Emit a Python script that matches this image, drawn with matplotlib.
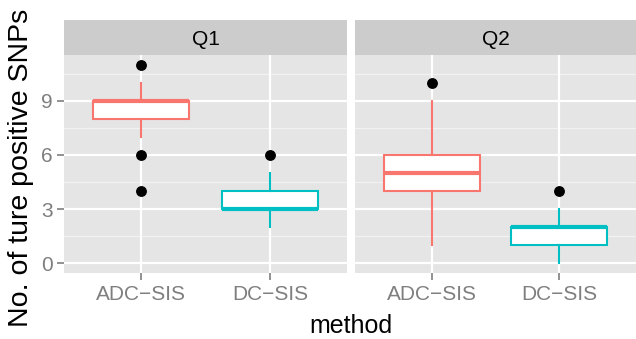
#!/usr/bin/env python3
"""Faceted boxplot of true positive SNP counts, ggplot2 look."""

import matplotlib

matplotlib.use("Agg")

import matplotlib.pyplot as plt

FACETS = ["Q1", "Q2"]
METHODS = ["ADC\u2212SIS", "DC\u2212SIS"]
METHOD_COLORS = ["#F8766D", "#00BFC4"]

# box summaries per facet, per method
Q1_LOWER = [8, 3]
Q1_MEDIAN = [9, 3]
Q1_UPPER = [9, 4]
Q1_WHISKER_LO = [7, 2]
Q1_WHISKER_HI = [10, 5]
Q1_OUTLIERS = [[11, 6, 4], [6]]

Q2_LOWER = [4, 1]
Q2_MEDIAN = [5, 2]
Q2_UPPER = [6, 2]
Q2_WHISKER_LO = [1, 0]
Q2_WHISKER_HI = [9, 3]
Q2_OUTLIERS = [[10], [4]]

Y_TICKS = [0, 3, 6, 9]
Y_MINOR = [1.5, 4.5, 7.5, 10.5]

FONT = ["Liberation Sans", "DejaVu Sans"]
BG = "#E5E5E5"
STRIP = "#CCCCCC"
GREY50 = "#7F7F7F"


def facet_stats(lower, median, upper, lo, hi, outliers):
    stats = []
    for i in range(len(METHODS)):
        stats.append(
            {
                "q1": lower[i],
                "med": median[i],
                "q3": upper[i],
                "whislo": lo[i],
                "whishi": hi[i],
                "fliers": outliers[i],
            }
        )
    return stats


def draw_panel(ax, stats, show_y):
    ax.set_facecolor(BG)
    for y in Y_MINOR:
        ax.axhline(y, color="#F2F2F2", linewidth=0.9, zorder=0)
    for y in Y_TICKS:
        ax.axhline(y, color="white", linewidth=1.6, zorder=0)
    for x in range(1, len(METHODS) + 1):
        ax.axvline(x, color="white", linewidth=1.6, zorder=0)

    for i, st in enumerate(stats):
        color = METHOD_COLORS[i]
        ax.bxp(
            [st],
            positions=[i + 1],
            widths=0.75,
            patch_artist=True,
            showcaps=False,
            boxprops={"facecolor": "white", "edgecolor": color, "linewidth": 1.5},
            whiskerprops={"color": color, "linewidth": 1.5},
            medianprops={"color": color, "linewidth": 3.0, "solid_capstyle": "butt"},
            flierprops={
                "marker": "o",
                "markerfacecolor": "black",
                "markeredgecolor": "black",
                "markersize": 6.8,
                "linestyle": "none",
            },
            zorder=2,
        )

    ax.set_xlim(0.4, 2.6)
    ax.set_ylim(-0.55, 11.55)
    ax.set_xticks(range(1, len(METHODS) + 1))
    ax.set_xticklabels(METHODS, fontsize=15, color=GREY50, family=FONT)
    ax.set_yticks(Y_TICKS)
    if show_y:
        ax.set_yticklabels([str(t) for t in Y_TICKS], fontsize=15, color=GREY50, family=FONT)
        ax.tick_params(axis="y", length=5, width=1.2, color=GREY50, pad=3)
    else:
        ax.tick_params(axis="y", length=0, labelleft=False)
    ax.tick_params(axis="x", length=5, width=1.2, color=GREY50, pad=4)
    for spine in ax.spines.values():
        spine.set_visible(False)


def main():
    fig = plt.figure(figsize=(6.36, 3.39), dpi=100)
    panel_bottom = 1 - 273 / 339
    panel_height = (273 - 55) / 339
    strip_bottom = 1 - 55 / 339
    strip_height = 35 / 339
    lefts = [64 / 636, 355 / 636]
    widths = [283 / 636, 281 / 636]

    facet_data = [
        facet_stats(Q1_LOWER, Q1_MEDIAN, Q1_UPPER, Q1_WHISKER_LO, Q1_WHISKER_HI, Q1_OUTLIERS),
        facet_stats(Q2_LOWER, Q2_MEDIAN, Q2_UPPER, Q2_WHISKER_LO, Q2_WHISKER_HI, Q2_OUTLIERS),
    ]

    for k, name in enumerate(FACETS):
        ax = fig.add_axes([lefts[k], panel_bottom, widths[k], panel_height])
        draw_panel(ax, facet_data[k], show_y=(k == 0))

        strip = fig.add_axes([lefts[k], strip_bottom, widths[k], strip_height])
        strip.set_facecolor(STRIP)
        strip.set_xticks([])
        strip.set_yticks([])
        for spine in strip.spines.values():
            spine.set_visible(False)
        strip.text(0.5, 0.45, name, ha="center", va="center", fontsize=15, family=FONT)

    fig.text(351 / 636, 1 - 326 / 339, "method", ha="center", va="center", fontsize=18, family=FONT)
    fig.text(21 / 636, 1 - 168 / 339, "No. of ture positive SNPs", ha="center", va="center",
             rotation=90, fontsize=20.5, family=FONT)

    fig.savefig("out.png", dpi=100)


if __name__ == "__main__":
    main()
